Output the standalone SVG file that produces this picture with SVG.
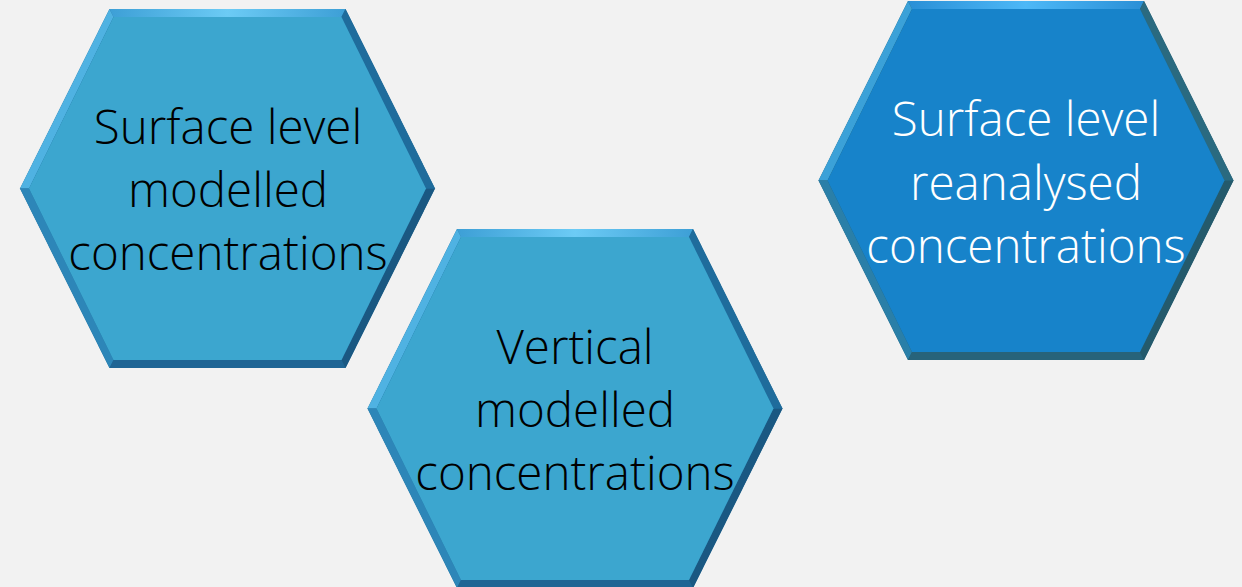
<svg xmlns="http://www.w3.org/2000/svg" xmlns:xlink="http://www.w3.org/1999/xlink" width="1242" height="587" viewBox="0 0 1242 587">
  <style>
    .lbl { font-family: "Open Sans", "Liberation Sans", sans-serif; font-weight: 300; font-size: 47.5px; text-anchor: middle; }
    .dark { fill: #000000; }
    .light { fill: #ffffff; }
  </style>
  <defs>
    <linearGradient id="topA" x1="0" y1="0" x2="1" y2="0">
      <stop offset="0" stop-color="#3d9fd6"/>
      <stop offset="0.5" stop-color="#6ccbf5"/>
      <stop offset="1" stop-color="#3d9fd6"/>
    </linearGradient>
    <linearGradient id="topB" x1="0" y1="0" x2="1" y2="0">
      <stop offset="0" stop-color="#2a8fd6"/>
      <stop offset="0.5" stop-color="#4db8f7"/>
      <stop offset="1" stop-color="#2a8fd6"/>
    </linearGradient>
    <g id="hexA">
      <polygon points="-118,-179.5 118,-179.5 207.5,0 118,179.5 -118,179.5 -207.5,0" fill="#1e6a98"/>
      <polygon points="-118,-179.5 118,-179.5 114,-171.5 -114,-171.5" fill="url(#topA)"/>
      <polygon points="-207.5,0 -118,-179.5 -114,-171.5 -198.5,0" fill="#4fb2e2"/>
      <polygon points="-207.5,0 -198.5,0 -114,171.5 -118,179.5" fill="#2d86b8"/>
      <polygon points="-118,179.5 -114,171.5 114,171.5 118,179.5" fill="#1f6594"/>
      <polygon points="118,179.5 114,171.5 198.5,0 207.5,0" fill="#1a5882"/>
      <polygon points="207.5,0 198.5,0 114,-171.5 118,-179.5" fill="#1f6c9c"/>
      <polygon points="-114,-171.5 114,-171.5 198.5,0 114,171.5 -114,171.5 -198.5,0" fill="#3ca6cf"/>
    </g>
    <g id="hexB">
      <polygon points="-118,-179.5 118,-179.5 207.5,0 118,179.5 -118,179.5 -207.5,0" fill="#245f72"/>
      <polygon points="-118,-179.5 118,-179.5 114,-171.5 -114,-171.5" fill="url(#topB)"/>
      <polygon points="-207.5,0 -118,-179.5 -114,-171.5 -198.5,0" fill="#3ba1d8"/>
      <polygon points="-207.5,0 -198.5,0 -114,171.5 -118,179.5" fill="#2a7fa8"/>
      <polygon points="-118,179.5 -114,171.5 114,171.5 118,179.5" fill="#27637a"/>
      <polygon points="118,179.5 114,171.5 198.5,0 207.5,0" fill="#245a6c"/>
      <polygon points="207.5,0 198.5,0 114,-171.5 118,-179.5" fill="#2a6a80"/>
      <polygon points="-114,-171.5 114,-171.5 198.5,0 114,171.5 -114,171.5 -198.5,0" fill="#1783ca"/>
    </g>
  </defs>
  <rect x="0" y="0" width="1242" height="587" fill="#f2f2f2"/>
  <g id="connectors"/>
  <g id="node-surface-modelled">
    <use xlink:href="#hexA" href="#hexA" transform="translate(227.5,188.5)"/>
    <text class="lbl dark" x="228" y="144">Surface level</text>
    <text class="lbl dark" x="228" y="207">modelled</text>
    <text class="lbl dark" x="228" y="270">concentrations</text>
  </g>
  <g id="node-vertical-modelled">
    <use xlink:href="#hexA" href="#hexA" transform="translate(575,408.5)"/>
    <text class="lbl dark" x="575" y="364">Vertical</text>
    <text class="lbl dark" x="575" y="427">modelled</text>
    <text class="lbl dark" x="575" y="490">concentrations</text>
  </g>
  <g id="node-surface-reanalysed">
    <use xlink:href="#hexB" href="#hexB" transform="translate(1026,180.5)"/>
    <text class="lbl light" x="1026" y="136">Surface level</text>
    <text class="lbl light" x="1026" y="200">reanalysed</text>
    <text class="lbl light" x="1026" y="263">concentrations</text>
  </g>
</svg>
